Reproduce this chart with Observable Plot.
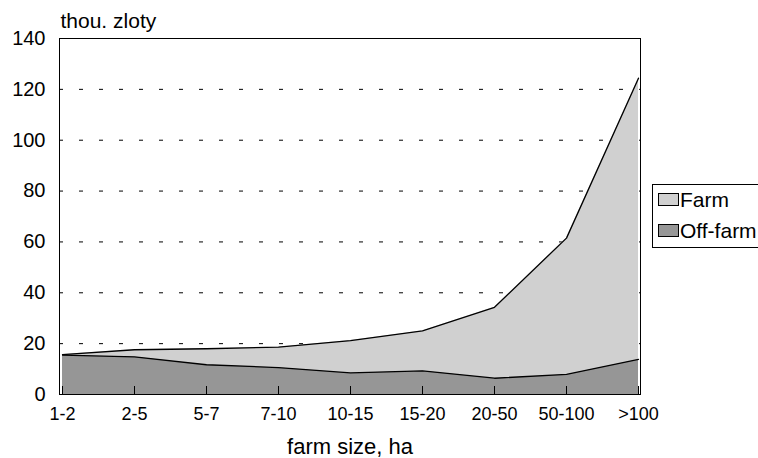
<!DOCTYPE html>
<html>
<head>
<meta charset="utf-8">
<script src="https://cdn.jsdelivr.net/npm/d3@7"></script>
<script src="https://cdn.jsdelivr.net/npm/@observablehq/plot@0.6"></script>
<style>
  body { margin: 0; background: white; overflow: hidden; }
</style>
</head>
<body>
<div id="chart"></div>
<script>
const categories = ["1-2", "2-5", "5-7", "7-10", "10-15", "15-20", "20-50", "50-100", ">100"];
const offFarm = [15.5, 14.8, 11.7, 10.6, 8.5, 9.3, 6.4, 7.9, 13.8];
const farm = [0.2, 2.8, 6.3, 8.0, 12.7, 15.7, 27.9, 53.6, 110.6];
const seriesNames = ["Farm", "Off-farm"];
const seriesColors = ["#d0d0d0", "#969696"];
const yTicks = [0, 20, 40, 60, 80, 100, 120, 140];
const gridTicks = [20, 40, 60, 80, 100, 120];

const long = [];
categories.forEach((c, i) => {
  long.push({cat: c, series: "Off-farm", value: offFarm[i]});
  long.push({cat: c, series: "Farm", value: farm[i]});
});
const order = ["Off-farm", "Farm"];
const font = "'Liberation Sans', Arial, sans-serif";

const svg = Plot.plot({
  width: 758,
  height: 458,
  marginTop: 38,
  marginRight: 118,
  marginBottom: 64,
  marginLeft: 59,
  style: {fontFamily: font, fontSize: "19px", color: "black", background: "white", overflow: "visible"},
  x: {type: "point", domain: categories, padding: 0},
  y: {domain: [0, 140]},
  color: {domain: seriesNames, range: seriesColors},
  marks: [
    Plot.ruleY(gridTicks, {stroke: "black", strokeWidth: 1, strokeDasharray: "4,16"}),
    Plot.areaY(long, Plot.stackY({x: "cat", y: "value", fill: "series", order, z: "series"})),
    Plot.lineY(long, Plot.stackY2({x: "cat", y: "value", z: "series", order, stroke: "black", strokeWidth: 1.3})),
    Plot.frame({stroke: "black", strokeWidth: 1}),
    Plot.axisY({ticks: yTicks, tickSize: 0, tickPadding: 14, label: null, fontSize: 20}),
    Plot.axisX({ticks: categories, tickSize: -8, tickPadding: 21, label: null, fontSize: 18}),
    Plot.text(["farm size, ha"], {frameAnchor: "bottom", lineAnchor: "middle", dy: 52, fontSize: 22, fill: "black"}),
    Plot.text(["thou. zloty"], {frameAnchor: "top-left", lineAnchor: "middle", textAnchor: "start", dx: 1, dy: -17.5, fontSize: 21, fill: "black"})
  ]
});

const g = d3.select(svg).append("g")
  .attr("font-family", font).attr("font-size", 21).attr("text-anchor", "start");
g.append("rect").attr("x", 652.5).attr("y", 184.5).attr("width", 200).attr("height", 63)
  .attr("fill", "white").attr("stroke", "black");
seriesNames.forEach((name, i) => {
  const y0 = 193.5 + i * 31;
  g.append("rect").attr("x", 658.5).attr("y", y0).attr("width", 20).attr("height", 12)
    .attr("fill", seriesColors[i]).attr("stroke", "black");
  g.append("text").attr("x", 680).attr("y", 206.5 + i * 31).attr("fill", "black")
    .attr("text-anchor", "start").text(name);
});

document.getElementById("chart").appendChild(svg);
</script>
</body>
</html>
